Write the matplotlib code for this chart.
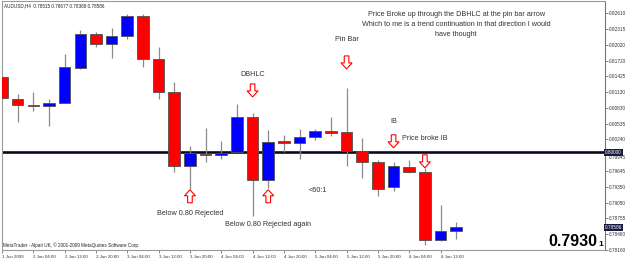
import matplotlib
matplotlib.use("Agg")
import matplotlib.pyplot as plt
import matplotlib.transforms as mtransforms
from matplotlib.patches import Rectangle, Polygon

# ---------------- data ----------------
opens = [0.81408, 0.81001, 0.80883, 0.80864, 0.80931, 0.81590, 0.82218, 0.82034, 0.82175, 0.82554,
         0.81742, 0.81135, 0.79733, 0.79968, 0.79949, 0.80011, 0.80652, 0.79484, 0.80207, 0.80169,
         0.80282, 0.80400, 0.80376, 0.80030, 0.79818, 0.79335, 0.79724, 0.79624, 0.78340, 0.78515]
highs = [0.81470, 0.81095, 0.81138, 0.81001, 0.81840, 0.82297, 0.82253, 0.82334, 0.82597, 0.82597,
         0.81972, 0.81315, 0.80118, 0.80451, 0.80212, 0.80901, 0.80744, 0.80419, 0.80319, 0.80438,
         0.80438, 0.80669, 0.81202, 0.80274, 0.79855, 0.79812, 0.79855, 0.79700, 0.79010, 0.78677]
lows = [0.80982, 0.80575, 0.80781, 0.80494, 0.80916, 0.81564, 0.81972, 0.81765, 0.82128, 0.81607,
        0.81001, 0.79617, 0.79305, 0.79812, 0.79874, 0.80000, 0.78791, 0.79324, 0.80011, 0.79874,
        0.80231, 0.80312, 0.79748, 0.79512, 0.79166, 0.79260, 0.79606, 0.78259, 0.78330, 0.78368]
closes = [0.81014, 0.80888, 0.80864, 0.80920, 0.81596, 0.82222, 0.82039, 0.82178, 0.82560, 0.81746,
          0.81138, 0.79730, 0.79992, 0.79944, 0.79981, 0.80657, 0.79480, 0.80199, 0.80180, 0.80293,
          0.80400, 0.80357, 0.80030, 0.79818, 0.79305, 0.79730, 0.79624, 0.78353, 0.78515, 0.78586]

time_tick_bars = [0, 2, 4, 6, 8, 10, 12, 14, 16, 18, 20, 22, 24, 26, 28]
time_tick_labels = ["1 Jun 2009", "2 Jun 04:00", "2 Jun 12:00", "2 Jun 20:00", "3 Jun 04:00",
                    "3 Jun 12:00", "3 Jun 20:00", "4 Jun 04:00", "4 Jun 12:00", "4 Jun 20:00",
                    "5 Jun 04:00", "5 Jun 12:00", "5 Jun 20:00", "8 Jun 04:00", "8 Jun 12:00"]
price_ticks = [0.82610, 0.82315, 0.82020, 0.81720, 0.81425, 0.81130, 0.80830, 0.80535, 0.80240,
               0.79945, 0.79645, 0.79350, 0.79050, 0.78755, 0.78460, 0.78160]
level_price = 0.80000
header_text = "AUDUSD,H4  0.78515 0.78677 0.78368 0.78586"

# ---------------- figure ----------------
W, H = 625, 259
DPI = 100
fig = plt.figure(figsize=(W / DPI, H / DPI), dpi=DPI)
fig.patch.set_facecolor("white")
FONT = ["Liberation Sans", "DejaVu Sans"]
plt.rcParams["font.family"] = FONT

# axes in pixels: left 2, right 605, top 1, bottom 250
L, R, T, B = 2, 605, 1, 250
ax = fig.add_axes([L / W, 1 - B / H, (R - L) / W, (B - T) / H])
ax.set_xlim(0.02, 0.02 + (R - L) / 15.67)
ax.set_ylim(0.78165, 0.82841)
ax.set_facecolor("white")
for s in ax.spines.values():
    s.set_color("#9a9a9a")
    s.set_linewidth(0.8)
ax.spines["right"].set_color("#777777")

def px(x, y):
    return x / W, 1 - y / H

TXT = "#333333"

# level line
ax.axhline(level_price, color="#0b0b1e", lw=1.9, zorder=1)

# candles
bw = 0.74
for i, (o, h, l, c) in enumerate(zip(opens, highs, lows, closes)):
    col = "#0000ff" if c >= o else "#ff0000"
    ax.plot([i, i], [l, h], color="#8a8a8a", lw=0.9, zorder=2, solid_capstyle="butt")
    lo, hi = min(o, c), max(o, c)
    ax.add_patch(Rectangle((i - bw / 2, lo), bw, max(hi - lo, 0.00012),
                           facecolor=col, edgecolor="#505050", lw=0.6, zorder=3))

# ticks
ax.yaxis.tick_right()
ax.set_yticks(price_ticks)
ax.set_yticklabels([f"{p:.5f}" for p in price_ticks])
ax.tick_params(axis="y", direction="out", length=2, width=0.5, pad=1,
               labelsize=3.4, labelcolor="#333333", colors="#555555")
ax.set_xticks(time_tick_bars)
ax.set_xticklabels(time_tick_labels, ha="left")
ax.tick_params(axis="x", direction="out", length=2, width=0.5, pad=1.5,
               labelsize=3.2, labelcolor="#333333", colors="#555555")
# the label just under the highlighted 0.80000 sits slightly lower
for p, lab in zip(price_ticks, ax.get_yticklabels()):
    if abs(p - 0.79945) < 1e-7:
        lab.set_va("top")

# highlighted price labels
for p in [level_price, closes[-1]]:
    ax.text(1.0, p, f"{p:.5f}", transform=ax.get_yaxis_transform(),
            ha="left", va="center", fontsize=3.4, color="white", zorder=6,
            bbox=dict(boxstyle="square,pad=0.2", fc="#1a1a40", ec="none"),
            clip_on=False)

# arrows (hollow red), shapes in pixels
def arrow(xi, price, up=False):
    s = 1 / DPI
    pts = [(0, 0), (5.5, -6), (2.3, -6), (2.3, -13), (-2.3, -13), (-2.3, -6), (-5.5, -6)]
    if not up:
        pts = [(x, -y) for x, y in pts]
    pts = [(x * s, y * s) for x, y in pts]
    tr = fig.dpi_scale_trans + mtransforms.ScaledTranslation(xi, price, ax.transData)
    ax.add_patch(Polygon(pts, closed=True, facecolor="white", edgecolor="#ff0000",
                         lw=0.8, transform=tr, zorder=5, clip_on=False))

arrow(16, 0.81038)           # DBHLC
arrow(22, 0.81564)           # Pin bar
arrow(12, 0.79292, up=True)  # Below 0.80 rejected
arrow(17, 0.79292, up=True)  # rejected again
arrow(25, 0.80081)           # IB
arrow(27, 0.79705)           # price broke IB

# annotation texts
FS = 5.2
def note(x, y, s, **kw):
    fig.text(*px(x, y), s, ha="center", va="center", fontsize=kw.pop("fs", FS),
             color=kw.pop("color", TXT), **kw)

note(456.7, 15, "Price Broke up through the DBHLC at the pin bar arrow")
note(456.7, 24.5, "Which to me is a trend continuation in that direction I would")
note(456.0, 34.5, "have thought")
note(346.7, 39.5, "Pin Bar")
note(252.7, 75, "DBHLC")
note(190, 213.3, "Below 0.80 Rejected")
note(267.8, 225, "Below 0.80 Rejected again")
note(317.5, 191, "<60:1")
note(393.7, 121.7, "IB")
note(425, 139, "Price broke IB")

fig.text(*px(4, 5.5), header_text, ha="left", va="center", fontsize=3.3, color="#222222")
fig.text(*px(3, 245), "MetaTrader - Alpari UK, \u00a9 2001-2009 MetaQuotes Software Corp.",
         ha="left", va="center", fontsize=3.3, color="#222222")

fig.text(*px(597, 241), "0.7930", ha="right", va="center", fontsize=11.5,
         fontweight="bold", color="black")
fig.text(*px(600.5, 244.5), "1", ha="center", va="center", fontsize=6,
         fontweight="bold", color="black")

fig.savefig("out.png", dpi=DPI, facecolor="white")
